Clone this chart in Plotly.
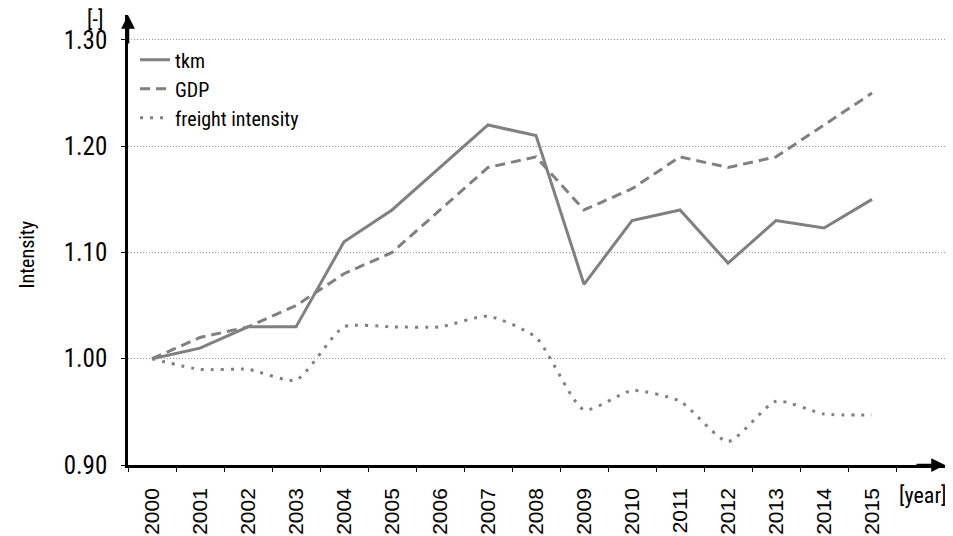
import plotly.graph_objects as go

years = [str(y) for y in range(2000, 2016)]
tkm = [1.00, 1.01, 1.03, 1.03, 1.11, 1.14, 1.18, 1.22, 1.21, 1.07, 1.13, 1.14, 1.09, 1.13, 1.123, 1.15]
gdp = [1.00, 1.02, 1.03, 1.05, 1.08, 1.10, 1.14, 1.18, 1.19, 1.14, 1.16, 1.19, 1.18, 1.19, 1.22, 1.25]
freight = [1.00, 0.99, 0.99, 0.98, 1.03, 1.03, 1.03, 1.04, 1.02, 0.952, 0.97, 0.96, 0.922, 0.96, 0.948, 0.947]
y_ticks = [0.90, 1.00, 1.10, 1.20, 1.30]

grey = "#808080"
FONT = "Roboto Condensed, Roboto, Arial"

fig = go.Figure()
fig.add_trace(go.Scatter(x=years, y=tkm, name="tkm", mode="lines",
                         line=dict(color=grey, width=3)))
fig.add_trace(go.Scatter(x=years, y=gdp, name="GDP", mode="lines",
                         line=dict(color=grey, width=3, dash="10px,6px")))
fig.add_trace(go.Scatter(x=years, y=freight, name="freight intensity", mode="lines",
                         line=dict(color=grey, width=3, dash="3px,7px", shape="spline", smoothing=0.6)))

# page body has an 8px margin, so the figure is sized to the visible area
fig.update_layout(
    width=945, height=528,
    margin=dict(l=120, r=8, t=7, b=71),
    paper_bgcolor="white", plot_bgcolor="white",
    font=dict(family=FONT, color="black"),
    showlegend=True,
    legend=dict(x=0.0086, y=0.944, xanchor="left", yanchor="top",
                font=dict(size=20, family=FONT), bgcolor="rgba(0,0,0,0)",
                tracegroupgap=0, itemwidth=30),
    xaxis=dict(type="category", range=[-0.5, 16.52], showgrid=False, automargin=False,
               showline=True, linecolor="black", linewidth=2.5,
               ticks="outside", ticklen=4, tickcolor="black", tickson="boundaries",
               tickangle=-90, tickfont=dict(size=21, family="Liberation Sans, Arial"),
               ticklabelstandoff=12, zeroline=False),
    yaxis=dict(range=[0.9, 1.3235], tickvals=y_ticks, tickformat=".2f", automargin=False,
               showgrid=True, gridcolor="#999999", griddash="1px,2px", gridwidth=1,
               showline=True, linecolor="black", linewidth=2.5,
               ticks="outside", ticklen=4, tickcolor="black",
               tickfont=dict(size=25, family=FONT), ticklabelstandoff=9, zeroline=False),
)

# axis arrowheads
fig.add_annotation(xref="paper", yref="paper", x=1.0, y=0, ax=-30, ay=0,
                   showarrow=True, arrowhead=2, arrowsize=1.1, arrowwidth=2.5,
                   arrowcolor="black", text="")
fig.add_annotation(xref="paper", yref="paper", x=0, y=1.0, ax=0, ay=30,
                   showarrow=True, arrowhead=2, arrowsize=1.1, arrowwidth=2.5,
                   arrowcolor="black", text="")

fig.add_annotation(xref="paper", yref="paper", x=-0.028, y=0.989, xanchor="right", yanchor="middle",
                   text="[-]", showarrow=False, font=dict(size=22, family=FONT))
fig.add_annotation(xref="paper", yref="paper", x=0.941, y=-0.067, xanchor="left", yanchor="middle",
                   text="[year]", showarrow=False, font=dict(size=22, family=FONT))
fig.add_annotation(xref="paper", yref="paper", x=-0.124, y=0.467, xanchor="center", yanchor="middle",
                   text="Intensity", textangle=-90, showarrow=False, font=dict(size=20, family=FONT))

fig.write_html("out.html")
